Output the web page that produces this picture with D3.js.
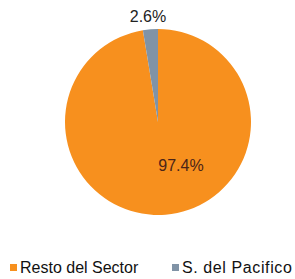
<!DOCTYPE html>
<html><head><meta charset="utf-8">
<script src="https://cdn.jsdelivr.net/npm/d3@7"></script>
<style>body{margin:0;background:#fff}svg{display:block}</style>
</head><body>
<svg id="c" width="295" height="279"></svg>
<script>
const categories = ["Resto del Sector", "S. del Pacifico"];
const values = [97.4, 2.6];
const labels = ["97.4%", "2.6%"];
const colors = ["#F7901E", "#8093A6"];

const svg = d3.select("#c");
const cx = 158, cy = 122, r = 93;
const g = svg.append("g").attr("transform", `translate(${cx},${cy})`);
const pie = d3.pie().sort(null).value(d => d)(values);
const arc = d3.arc().innerRadius(0).outerRadius(r);
g.selectAll("path").data(pie).enter().append("path")
  .attr("d", arc).attr("fill", (d, i) => colors[i]);

// labels
g.append("text").attr("x", 23).attr("y", 49).attr("text-anchor", "middle")
  .attr("font-family", "Liberation Sans, Arial, sans-serif").attr("font-size", 16)
  .attr("fill", "#4a2418").text(labels[0]);
g.append("text").attr("x", -10).attr("y", -100).attr("text-anchor", "middle")
  .attr("font-family", "Liberation Sans, Arial, sans-serif").attr("font-size", 16)
  .attr("fill", "#222").text(labels[1]);

// legend
const leg = [{x: 10, ls: 0}, {x: 172, ls: 0.6}];
categories.forEach((c, i) => {
  svg.append("rect").attr("x", leg[i].x).attr("y", 264).attr("width", 7).attr("height", 7)
    .attr("fill", colors[i]);
  svg.append("text").attr("x", leg[i].x + 10).attr("y", 273)
    .attr("font-family", "Liberation Sans, Arial, sans-serif").attr("font-size", 16)
    .attr("letter-spacing", leg[i].ls)
    .attr("fill", "#111").text(c);
});
</script>
</body></html>
